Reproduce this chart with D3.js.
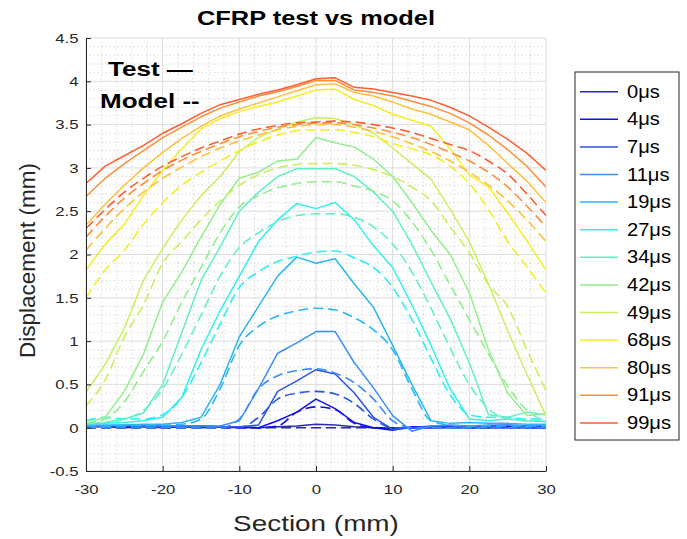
<!DOCTYPE html>
<html>
<head>
<meta charset="utf-8">
<script src="https://cdn.jsdelivr.net/npm/d3@7"></script>
<style>
  body { margin: 0; background: #fff; }
  text { font-family: "Liberation Sans", Arial, Helvetica, sans-serif; }
</style>
</head>
<body>
<svg id="chart"></svg>
<script>
// ---- data ----
const sectionMm = [-30, -27.5, -25, -22.5, -20, -17.5, -15, -12.5, -10, -7.5, -5, -2.5, 0,
                   2.5, 5, 7.5, 10, 12.5, 15, 17.5, 20, 22.5, 25, 27.5, 30];

const timeLabels = ["0μs", "4μs", "7μs", "11μs", "19μs", "27μs", "34μs", "42μs", "49μs", "68μs", "80μs", "91μs", "99μs"];
const lineColors = ["#2b2ba6", "#1010ee", "#2a55e8", "#3a8ef5", "#2ab6f6", "#2ff0f0", "#62f0c6",
                    "#92ef8e", "#c9f05e", "#f4ef22", "#ffc13c", "#ff8f3a", "#ff5e30"];

// test (solid)
const test0  = [0.01,0.01,0.00,0.01,0.00,0.01,0.00,0.01,0.00,0.00,0.01,0.02,0.04,0.03,0.01,0.00,-0.01,0.00,0.00,0.01,0.00,0.00,0.01,0.00,0.00];
const test4  = [0.02,0.02,0.01,0.02,0.02,0.01,0.02,0.01,0.01,0.00,0.08,0.18,0.33,0.22,0.06,0.00,-0.03,0.01,0.01,0.02,0.01,0.02,0.02,0.01,0.02];
const test7  = [0.02,0.02,0.02,0.02,0.01,0.02,0.02,0.01,0.01,0.03,0.42,0.54,0.67,0.62,0.40,0.12,-0.02,0.00,0.02,0.02,0.01,0.02,0.03,0.02,0.02];
const test11 = [0.02,0.02,0.03,0.02,0.02,0.02,0.02,0.02,0.08,0.45,0.86,0.98,1.11,1.11,0.75,0.46,0.14,-0.04,0.02,0.03,0.02,0.03,0.03,0.02,0.03];
const test19 = [0.03,0.03,0.03,0.04,0.04,0.06,0.12,0.50,1.05,1.40,1.75,1.97,1.90,1.95,1.66,1.39,0.95,0.50,0.08,0.05,0.06,0.05,0.05,0.04,0.04];
const test27 = [0.05,0.05,0.06,0.08,0.12,0.35,0.90,1.35,1.75,2.15,2.40,2.59,2.53,2.60,2.40,2.10,1.85,1.42,0.95,0.45,0.10,0.08,0.10,0.08,0.07];
const test34 = [0.05,0.06,0.10,0.17,0.50,1.10,1.70,2.09,2.50,2.72,2.90,2.99,2.99,2.99,2.90,2.72,2.50,2.12,1.68,1.26,0.75,0.15,0.12,0.18,0.15];
const test42 = [0.05,0.12,0.42,0.85,1.45,1.80,2.20,2.58,2.88,2.95,3.08,3.10,3.35,3.29,3.24,3.10,2.90,2.60,2.28,2.00,1.56,0.90,0.40,0.14,0.16];
const test49 = [0.41,0.73,1.15,1.70,2.07,2.40,2.68,2.90,3.19,3.35,3.45,3.53,3.58,3.57,3.50,3.40,3.23,3.05,2.87,2.52,2.15,1.66,1.12,0.62,0.14];
const test68 = [1.82,2.12,2.35,2.68,2.97,3.22,3.45,3.57,3.65,3.71,3.76,3.83,3.90,3.91,3.79,3.72,3.62,3.55,3.48,3.22,2.92,2.78,2.48,2.16,1.82];
const test80 = [2.34,2.58,2.80,3.00,3.18,3.34,3.48,3.60,3.68,3.75,3.82,3.89,3.96,3.97,3.87,3.83,3.76,3.68,3.62,3.53,3.44,3.26,3.05,2.85,2.60];
const test91 = [2.67,2.88,3.05,3.20,3.35,3.47,3.59,3.69,3.76,3.83,3.88,3.94,4.01,4.01,3.90,3.87,3.83,3.77,3.71,3.63,3.52,3.38,3.21,3.02,2.78];
const test99 = [2.82,3.02,3.14,3.26,3.40,3.51,3.63,3.73,3.79,3.85,3.90,3.96,4.03,4.04,3.93,3.91,3.87,3.83,3.78,3.70,3.60,3.47,3.33,3.17,2.97];

// model (dashed)
const model0  = [0,0,0,0,0,0,0,0,0,0,0,0,0,0,0,0,0,0,0,0,0,0,0,0,0];
const model4  = [0,0,0,0,0,0,0,0,0,0,0.02,0.18,0.24,0.21,0.05,0,0,0,0,0,0,0,0,0,0];
const model7  = [0,0,0,0,0,0,0,0,0,0.12,0.33,0.40,0.42,0.39,0.28,0.10,0,0,0,0,0,0,0,0,0];
const model11 = [0,0,0,0,0,0,0,0,0.10,0.45,0.60,0.66,0.68,0.63,0.52,0.33,0.08,0,0,0,0,0,0,0,0];
const model19 = [0.02,0.02,0.02,0.03,0.03,0.04,0.10,0.45,0.95,1.17,1.29,1.35,1.38,1.36,1.27,1.13,0.90,0.45,0.08,0.03,0.02,0.02,0.02,0.02,0.02];
const model27 = [0.08,0.12,0.10,0.10,0.15,0.35,0.75,1.20,1.62,1.80,1.92,1.98,2.03,2.04,1.96,1.85,1.62,1.25,0.80,0.38,0.15,0.12,0.12,0.10,0.10];
const model34 = [0.05,0.06,0.10,0.20,0.45,0.85,1.30,1.75,2.08,2.25,2.38,2.45,2.47,2.47,2.43,2.32,2.12,1.80,1.38,0.92,0.50,0.22,0.10,0.08,0.10];
const model42 = [0.05,0.10,0.30,0.65,1.00,1.45,1.85,2.25,2.55,2.68,2.77,2.82,2.84,2.84,2.79,2.73,2.62,2.38,2.05,1.65,1.25,0.85,0.48,0.20,0.08];
const model49 = [0.25,0.55,1.05,1.42,1.90,2.15,2.40,2.62,2.80,2.92,3.00,3.04,3.05,3.05,3.03,2.98,2.90,2.78,2.62,2.32,2.02,1.65,1.40,0.90,0.43];
const model68 = [1.50,1.82,2.05,2.35,2.60,2.80,2.95,3.08,3.20,3.30,3.38,3.43,3.44,3.44,3.41,3.36,3.28,3.22,3.15,3.02,2.82,2.52,2.15,1.86,1.55];
const model80 = [2.05,2.30,2.53,2.72,2.88,3.01,3.13,3.23,3.31,3.38,3.44,3.48,3.50,3.50,3.47,3.42,3.36,3.28,3.19,3.08,2.95,2.80,2.62,2.40,2.15];
const model91 = [2.20,2.44,2.65,2.82,2.97,3.09,3.19,3.28,3.36,3.42,3.47,3.50,3.52,3.52,3.50,3.46,3.41,3.35,3.27,3.18,3.08,2.95,2.78,2.56,2.32];
const model99 = [2.30,2.52,2.72,2.88,3.02,3.13,3.23,3.31,3.39,3.45,3.49,3.52,3.53,3.54,3.53,3.50,3.46,3.41,3.34,3.27,3.20,3.08,2.93,2.70,2.45];

const testSeries  = [test0, test4, test7, test11, test19, test27, test34, test42, test49, test68, test80, test91, test99];
const modelSeries = [model0, model4, model7, model11, model19, model27, model34, model42, model49, model68, model80, model91, model99];

const xTicks = [-30, -20, -10, 0, 10, 20, 30];
const yTicks = [-0.5, 0, 0.5, 1, 1.5, 2, 2.5, 3, 3.5, 4, 4.5];

// ---- layout ----
const width = 687, height = 539;
const plot = { left: 86, right: 546, top: 38, bottom: 471 };
const stretch = 1.24;   // the reference figure is stretched sideways, text included

const svg = d3.select("#chart").attr("width", width).attr("height", height);

const x = d3.scaleLinear().domain([-30, 30]).range([plot.left, plot.right]);
const y = d3.scaleLinear().domain([-0.5, 4.5]).range([plot.bottom, plot.top]);

// horizontal text helper, stretched like the reference
function wideText(px, py, str, size, opts = {}) {
    return svg.append("text")
        .attr("transform", `translate(${px}, ${py}) scale(${opts.sx || stretch}, 1)`)
        .attr("text-anchor", opts.anchor || "start")
        .attr("font-size", size + "px")
        .attr("font-weight", opts.bold ? "bold" : "normal")
        .attr("fill", opts.fill || "#000")
        .text(str);
}

// minor grid (dotted)
const gridG = svg.append("g");
gridG.selectAll("line.mx")
    .data(d3.range(-28, 30, 2).filter(v => v % 10 !== 0))
    .join("line")
    .attr("x1", d => x(d)).attr("x2", d => x(d))
    .attr("y1", plot.top).attr("y2", plot.bottom)
    .attr("stroke", "#b5b5b5").attr("stroke-width", 0.7)
    .attr("stroke-dasharray", "1,3");

gridG.selectAll("line.my")
    .data(d3.range(-4, 45).map(v => v / 10).filter(v => Math.abs(v * 2 - Math.round(v * 2)) > 1e-6))
    .join("line")
    .attr("x1", plot.left).attr("x2", plot.right)
    .attr("y1", d => y(d)).attr("y2", d => y(d))
    .attr("stroke", "#b5b5b5").attr("stroke-width", 0.7)
    .attr("stroke-dasharray", "1,3");

// major grid
gridG.selectAll("line.gx")
    .data(xTicks)
    .join("line")
    .attr("x1", d => x(d)).attr("x2", d => x(d))
    .attr("y1", plot.top).attr("y2", plot.bottom)
    .attr("stroke", "#dcdcdc").attr("stroke-width", 1);

gridG.selectAll("line.gy")
    .data(yTicks)
    .join("line")
    .attr("x1", plot.left).attr("x2", plot.right)
    .attr("y1", d => y(d)).attr("y2", d => y(d))
    .attr("stroke", "#dcdcdc").attr("stroke-width", 1);

// ---- lines ----
svg.append("clipPath").attr("id", "clip")
    .append("rect")
    .attr("x", plot.left).attr("y", plot.top)
    .attr("width", plot.right - plot.left).attr("height", plot.bottom - plot.top);

const linesG = svg.append("g").attr("clip-path", "url(#clip)");

const testLine = d3.line()
    .x((d, i) => x(sectionMm[i]))
    .y(d => y(d));

const modelLine = d3.line()
    .x((d, i) => x(sectionMm[i]))
    .y(d => y(d))
    .curve(d3.curveMonotoneX);

timeLabels.forEach((t, k) => {
    linesG.append("path")
        .attr("d", modelLine(modelSeries[k]))
        .attr("fill", "none")
        .attr("stroke", lineColors[k])
        .attr("stroke-width", 1.6)
        .attr("stroke-dasharray", "10,5");

    linesG.append("path")
        .attr("d", testLine(testSeries[k]))
        .attr("fill", "none")
        .attr("stroke", lineColors[k])
        .attr("stroke-width", 1.5)
        .attr("stroke-linejoin", "round");
});

// ---- axes ----
const axisColor = "#262626";

const xAxis = svg.append("g")
    .attr("transform", `translate(0, ${plot.bottom})`)
    .call(d3.axisBottom(x).tickValues(xTicks).tickSizeInner(-5).tickSizeOuter(0).tickPadding(13)
        .tickFormat(d => String(d)));

const yAxis = svg.append("g")
    .attr("transform", `translate(${plot.left}, 0)`)
    .call(d3.axisLeft(y).tickValues(yTicks).tickSizeInner(-5).tickSizeOuter(0).tickPadding(6)
        .tickFormat(d => String(d)));

[xAxis, yAxis].forEach(a => {
    a.select(".domain").attr("stroke", axisColor).attr("stroke-width", 1);
    a.selectAll(".tick line").attr("stroke", axisColor);
    a.selectAll(".tick text")
        .attr("fill", axisColor)
        .attr("transform", `scale(${stretch}, 1)`)
        .style("font-size", "13.5px")
        .style("font-family", "'Liberation Sans', Arial, sans-serif");
});

// ---- titles ----
wideText((plot.left + plot.right) / 2, 25, "CFRP test vs model", 20.5, { anchor: "middle", bold: true });
wideText((plot.left + plot.right) / 2, 531, "Section (mm)", 22.5, { anchor: "middle", fill: axisColor });

svg.append("text")
    .attr("transform", `translate(35, ${(plot.top + plot.bottom) / 2 + 6}) rotate(-90)`)
    .attr("text-anchor", "middle")
    .attr("font-size", "22.5px")
    .attr("fill", axisColor)
    .text("Displacement (mm)");

// in-plot notes
wideText(108, 76, "Test —", 21, { bold: true });
wideText(100, 108, "Model --", 21, { bold: true });

// ---- legend ----
const legend = svg.append("g").attr("transform", "translate(575, 72)");

legend.append("rect")
    .attr("width", 104).attr("height", 368)
    .attr("fill", "#fff")
    .attr("stroke", axisColor).attr("stroke-width", 1);

const items = legend.selectAll(".legend-item")
    .data(timeLabels)
    .join("g")
    .attr("transform", (d, i) => `translate(0, ${19.7 + i * 27.6})`);

items.append("line")
    .attr("x1", 5).attr("x2", 43)
    .attr("stroke", (d, i) => lineColors[i])
    .attr("stroke-width", 1.5);

items.append("text")
    .attr("transform", "translate(52, 6) scale(1.15, 1)")
    .style("font-size", "17.5px")
    .attr("fill", "#000")
    .text(d => d);
</script>
</body>
</html>
